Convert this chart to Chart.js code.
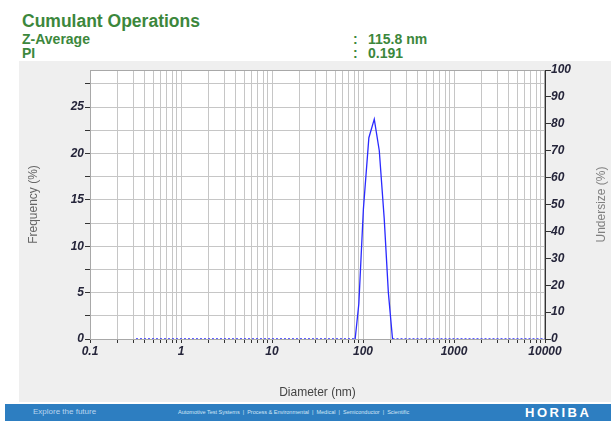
<!DOCTYPE html>
<html>
<head>
<meta charset="utf-8">
<script src="https://cdn.jsdelivr.net/npm/chart.js@4"></script>
<style>
  body {
    margin: 0;
    width: 611px;
    height: 421px;
    background: #fff;
    position: relative;
    overflow: hidden;
    font-family: "Liberation Sans", Arial, sans-serif;
  }
  .hdr { position: absolute; color: #3c873c; font-weight: bold; line-height: 1; white-space: nowrap; }
  #panel { position: absolute; left: 19px; top: 61px; width: 592px; height: 341px; background: #efefef; }
  #footer { position: absolute; left: 5px; top: 404px; width: 606px; height: 17px; background: #2d7ec1; }
  #footer span { position: absolute; white-space: nowrap; }
</style>
</head>
<body>

<div class="hdr" style="left:22px;top:12.7px;font-size:17.5px">Cumulant Operations</div>
<div class="hdr" style="left:22px;top:32px;font-size:14px">Z-Average</div>
<div class="hdr" style="left:22px;top:46px;font-size:14px">PI</div>
<div class="hdr" style="left:353px;top:32px;font-size:14px">:</div>
<div class="hdr" style="left:353px;top:46px;font-size:14px">:</div>
<div class="hdr" id="zavg" style="left:368px;top:32px;font-size:14px"></div>
<div class="hdr" id="pi" style="left:368px;top:46px;font-size:14px"></div>

<div id="panel"><canvas id="sizeChart" width="592" height="341"></canvas></div>

<div id="footer">
  <span style="left:28px;top:3px;font-size:8px;color:#b9d5ef">Explore the future</span>
  <span style="left:173px;top:5px;font-size:5.5px;color:#d3e6f6">Automotive Test Systems &nbsp;|&nbsp; Process &amp; Environmental &nbsp;|&nbsp; Medical &nbsp;|&nbsp; Semiconductor &nbsp;|&nbsp; Scientific</span>
  <span style="left:520px;top:1px;font-size:13px;font-weight:bold;letter-spacing:2.5px;color:#fff">HORIBA</span>
</div>

<script>
// cumulant results
const zAverage = "115.8 nm";
const polyIndex = "0.191";

// size distribution (diameter in nm, frequency in %)
const diameters = [0.32, 82, 90, 101, 116, 133, 151, 171, 190, 211, 10000];
const frequency = [0, 0, 3.8, 14.0, 21.7, 23.7, 20.3, 13.0, 5.0, 0, 0];

// axes
const xDecades = [0.1, 1, 10, 100, 1000, 10000];
const xLabels = ["0.1", "1", "10", "100", "1000", "10000"];
const freqMax = 29;
const freqStep = 2.5;
const undersizeMax = 100;
const undersizeStep = 5;

document.getElementById("zavg").textContent = zAverage;
document.getElementById("pi").textContent = polyIndex;

const points = diameters.map((d, i) => ({ x: d, y: frequency[i] }));

// every 1..9 multiple of each decade gets a grid line
function buildLogTicks() {
    const ticks = [];
    for (let i = 0; i < xDecades.length - 1; i++) {
        for (let k = 1; k < 10; k++) {
            ticks.push({ value: xDecades[i] * k });
        }
    }
    ticks.push({ value: xDecades[xDecades.length - 1] });
    return ticks;
}

const tickFont = { family: "Liberation Sans, Arial", size: 12, weight: "bold", style: "italic" };
const tickColor = "#25253a";
const gridColor = "#c6c6c6";

// white plot area + gray frame
const plotFrame = {
    id: "plotFrame",
    beforeDraw(chart) {
        const { ctx, chartArea: a } = chart;
        ctx.save();
        ctx.fillStyle = "#ffffff";
        ctx.fillRect(a.left, a.top, a.right - a.left, a.bottom - a.top);
        ctx.restore();
    },
    beforeDatasetsDraw(chart) {
        const { ctx, chartArea: a } = chart;
        ctx.save();
        ctx.strokeStyle = "#a8a8a8";
        ctx.lineWidth = 1;
        ctx.strokeRect(a.left + 0.5, a.top + 0.5, a.right - a.left - 1, a.bottom - a.top);
        ctx.restore();
    },
    afterDraw(chart) {
        // right axis title reads bottom-to-top like the left one
        const { ctx, chartArea: a } = chart;
        ctx.save();
        ctx.translate(582.5, (a.top + a.bottom) / 2);
        ctx.rotate(-Math.PI / 2);
        ctx.font = "12px 'Liberation Sans', Arial";
        ctx.fillStyle = "#808080";
        ctx.textAlign = "center";
        ctx.textBaseline = "middle";
        ctx.fillText("Undersize (%)", 0, 0);
        ctx.restore();
    }
};

new Chart(document.getElementById("sizeChart"), {
    type: "line",
    data: {
        datasets: [{
            label: "Frequency",
            data: points,
            borderColor: "#2a2aff",
            borderWidth: 1.3,
            pointRadius: 0,
            tension: 0,
            yAxisID: "y",
            segment: {
                borderDash: ctx => (ctx.p0.parsed.y === 0 && ctx.p1.parsed.y === 0) ? [2, 2] : undefined,
                borderWidth: ctx => (ctx.p0.parsed.y === 0 && ctx.p1.parsed.y === 0) ? 1.6 : undefined
            }
        }]
    },
    options: {
        responsive: false,
        animation: false,
        layout: { padding: { top: 9, left: 0, right: 0, bottom: 0 } },
        plugins: {
            legend: { display: false },
            tooltip: { enabled: false }
        },
        scales: {
            x: {
                type: "logarithmic",
                position: "bottom",
                min: 0.1,
                max: 10000,
                afterBuildTicks: scale => { scale.ticks = buildLogTicks(); },
                afterFit: scale => { scale.height = 63; },
                grid: { color: gridColor, tickColor: "#333", tickLength: 4 },
                border: { color: "#a8a8a8" },
                ticks: {
                    autoSkip: false,
                    maxRotation: 0,
                    padding: 1,
                    color: tickColor,
                    font: tickFont,
                    callback: value => {
                        const i = xDecades.findIndex(d => Math.abs(d - value) / d < 1e-6);
                        return i >= 0 ? xLabels[i] : "";
                    }
                },
                title: {
                    display: true,
                    text: "Diameter (nm)",
                    color: "#444",
                    font: { family: "Liberation Sans, Arial", size: 12 },
                    padding: { top: 0, bottom: 2 }
                }
            },
            y: {
                position: "left",
                min: 0,
                max: freqMax,
                afterFit: scale => { scale.width = 71; },
                grid: { color: gridColor, tickColor: "#333", tickLength: 5 },
                border: { color: "#a8a8a8" },
                ticks: {
                    stepSize: freqStep,
                    includeBounds: false,
                    padding: 1,
                    color: tickColor,
                    font: tickFont,
                    callback: v => (v % 5 === 0 ? v : "")
                },
                title: {
                    display: true,
                    text: "Frequency (%)",
                    color: "#666",
                    font: { family: "Liberation Sans, Arial", size: 12 },
                    padding: { top: 7, bottom: 0 }
                }
            },
            y2: {
                position: "right",
                min: 0,
                max: undersizeMax,
                afterFit: scale => { scale.width = 66; },
                grid: { drawOnChartArea: false, tickColor: "#333", tickLength: 6 },
                border: { color: "#333" },
                ticks: {
                    stepSize: undersizeStep,
                    padding: 0,
                    color: tickColor,
                    font: tickFont,
                    callback: v => (v % 10 === 0 ? v : "")
                }
            }
        }
    },
    plugins: [plotFrame]
});
</script>
</body>
</html>
